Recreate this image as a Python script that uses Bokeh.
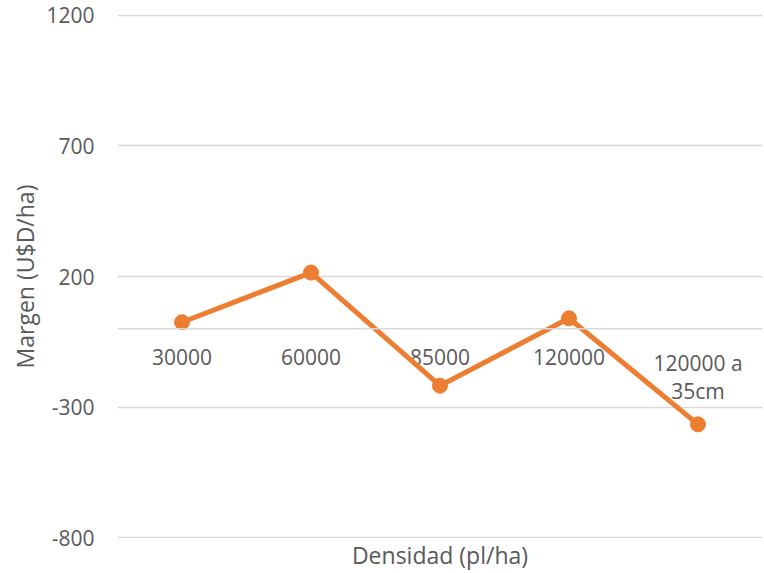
from bokeh.plotting import figure
from bokeh.models import FixedTicker, Span, ColumnDataSource, Range1d, FactorRange
from bokeh.core.properties import value
from bokeh.embed import file_html
from bokeh.resources import INLINE

categories = ["30000", "60000", "85000", "120000", "120000 a 35cm"]
cat_labels = ["30000", "60000", "85000", "120000", "120000 a\n35cm"]
margen = [25, 215, -218, 40, -366]
y_ticks = [-800, -300, 200, 700, 1200]
y_tick_labels = ["-800", "-300", "200", "700", "1200"]

FONT = "Open Sans"
GREY = "#595959"
ORANGE = "#ED7D31"

p = figure(width=764, height=573, x_range=FactorRange(*categories, range_padding=0),
           y_range=Range1d(-803, 1203), output_backend="svg", toolbar_location=None,
           min_border_left=117, min_border_right=2, min_border_top=14, min_border_bottom=34)
p.outline_line_color = None
p.xgrid.grid_line_color = None
p.ygrid.grid_line_color = "#d9d9d9"
p.ygrid.grid_line_width = 1.3

p.yaxis.ticker = FixedTicker(ticks=y_ticks)
p.yaxis.major_label_overrides = {t: s for t, s in zip(y_ticks, y_tick_labels)}
p.yaxis.axis_line_color = None
p.yaxis.major_tick_line_color = None
p.yaxis.minor_tick_line_color = None
p.yaxis.major_label_text_font = FONT
p.yaxis.major_label_text_font_size = "21px"
p.yaxis.major_label_text_color = GREY
p.yaxis.major_label_standoff = 17
p.yaxis.axis_label = "Margen (U$D/ha)"
p.yaxis.axis_label_text_font = FONT
p.yaxis.axis_label_text_font_size = "23px"
p.yaxis.axis_label_text_font_style = "normal"
p.yaxis.axis_label_text_color = GREY
p.yaxis.axis_label_standoff = 2

p.xaxis.axis_line_color = None
p.xaxis.major_tick_line_color = None
p.xaxis.minor_tick_line_color = None
p.xaxis.major_tick_out = 0
p.xaxis.major_tick_in = 0
p.xaxis.major_label_standoff = 0
p.xaxis.major_label_text_alpha = 0
p.xaxis.major_label_text_font_size = "1px"
p.xaxis.axis_label = "Densidad (pl/ha)"
p.xaxis.axis_label_text_font = FONT
p.xaxis.axis_label_text_font_size = "23px"
p.xaxis.axis_label_text_font_style = "normal"
p.xaxis.axis_label_text_color = GREY
p.xaxis.axis_label_standoff = 0

p.add_layout(Span(location=0, dimension="width", line_color="#d9d9d9", line_width=1.3))

lab_src = ColumnDataSource(dict(x=categories, y=[0] * len(categories), t=cat_labels))
p.text(x="x", y="y", text="t", source=lab_src, text_font=value(FONT), text_font_size="21px",
       text_color=GREY, text_align="center", text_baseline="top", y_offset=20,
       text_line_height=1.0)

src = ColumnDataSource(dict(x=categories, y=margen))
p.line(x="x", y="y", source=src, line_color=ORANGE, line_width=5)
p.scatter(x="x", y="y", source=src, size=15, fill_color=ORANGE, line_color=ORANGE)

open("out.html", "w").write(file_html(p, INLINE))
